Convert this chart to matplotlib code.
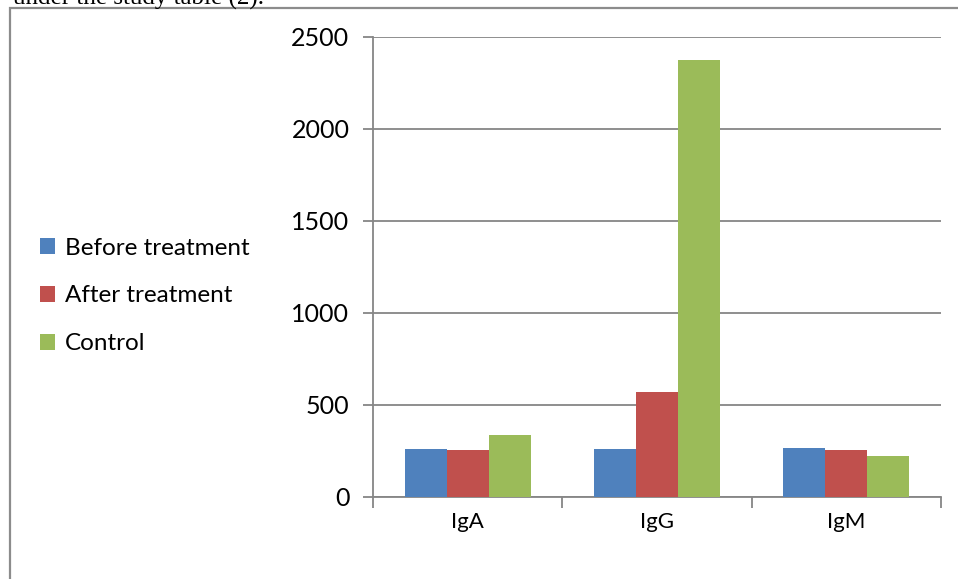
import matplotlib
matplotlib.use("Agg")
import matplotlib.pyplot as plt
from matplotlib.patches import Rectangle, Patch
import numpy as np

categories = ["IgA", "IgG", "IgM"]
series_names = ["Before treatment", "After treatment", "Control"]
before_treatment = [261, 261, 266]
after_treatment = [255, 571, 255]
control = [337, 2375, 223]
y_ticks = [0, 500, 1000, 1500, 2000, 2500]

colors = ["#4F81BD", "#C0504D", "#9BBB59"]
grid_gray = "#868686"
font = "Lato"

fig = plt.figure(figsize=(9.58, 5.79), dpi=100)
fig.patch.set_facecolor("white")

# caption line of the surrounding document, clipped at the top edge
fig.text(13 / 958, 1 - 5 / 579, "under the study table (2).", family="Liberation Serif",
         fontsize=18, ha="left", va="baseline", color="black")

# outer chart frame
frame = Rectangle((10 / 958, -0.05), 1.0, 1 - 8 / 579 + 0.05, transform=fig.transFigure,
                  fill=False, edgecolor="#8c8c8c", linewidth=1.6, zorder=0)
fig.add_artist(frame)

ax = fig.add_axes([373 / 958, 1 - 497 / 579, 568 / 958, 460 / 579])
x = np.arange(len(categories))
w = 1 / 4.5
for i, (vals, name) in enumerate(zip([before_treatment, after_treatment, control], series_names)):
    ax.bar(x + (i - 1) * w, vals, width=w, color=colors[i], edgecolor="none",
           label=name, zorder=3)

ax.set_xlim(-0.5, 2.5)
ax.set_ylim(0, 2500)
ax.set_yticks(y_ticks)
ax.set_yticklabels([str(v) for v in y_ticks], family=font, fontsize=18)
ax.yaxis.grid(True, color=grid_gray, linewidth=1.3, zorder=0)
ax.tick_params(axis="y", length=7, width=1.3, color=grid_gray, pad=10)

ax.set_xticks(x)
ax.set_xticklabels(categories, family=font, fontsize=16)
ax.tick_params(axis="x", which="major", length=0, pad=11)
ax.set_xticks(np.arange(-0.5, 3.0, 1.0), minor=True)
ax.tick_params(axis="x", which="minor", length=8, width=1.3, color=grid_gray)

for s in ["top", "right"]:
    ax.spines[s].set_visible(False)
for s in ["left", "bottom"]:
    ax.spines[s].set_color(grid_gray)
    ax.spines[s].set_linewidth(1.3)

handles = [Patch(facecolor=c, edgecolor="none") for c in colors]
fig.legend(handles, series_names, loc="center left", bbox_to_anchor=(40 / 958, 1 - 296 / 579),
           frameon=False, prop={"family": font, "size": 17.5}, handlelength=0.62,
           handleheight=0.62, handletextpad=0.4, labelspacing=1.1, borderpad=0,
           borderaxespad=0)

fig.savefig("out.png", dpi=100)
